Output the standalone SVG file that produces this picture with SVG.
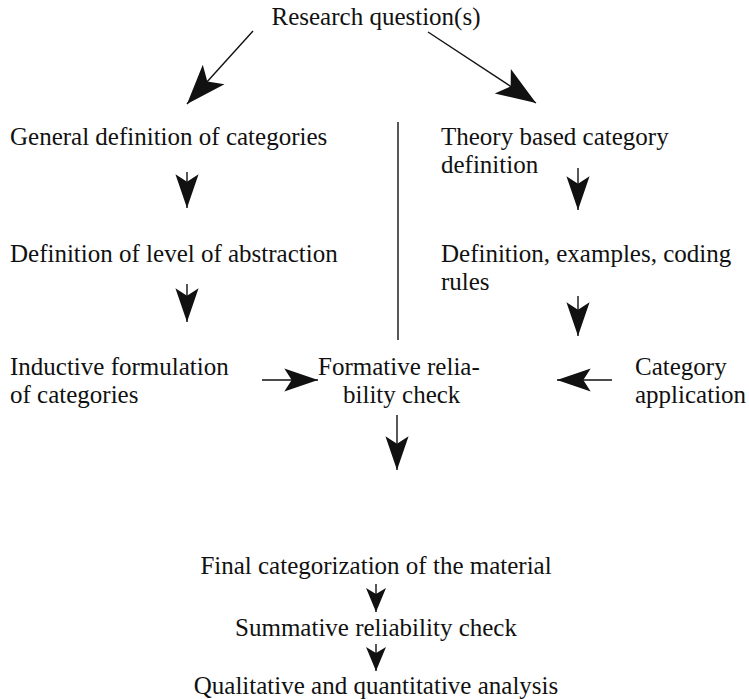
<svg xmlns="http://www.w3.org/2000/svg" width="749" height="699" viewBox="0 0 749 699">
  <defs>
    <style>
      text { font-family: "Liberation Serif", "Times New Roman", serif; font-size: 25px; fill: #111; }
      .mid { text-anchor: middle; }
      .conn { stroke: #111; stroke-width: 1.4; fill: none; }
      .big { marker-end: url(#headBig); }
      .small { marker-end: url(#head); }
      .tiny { marker-end: url(#headTiny); }
    </style>
    <!-- stealth-style arrowheads, tip at the line end -->
    <marker id="head" markerUnits="userSpaceOnUse" markerWidth="40" markerHeight="30" viewBox="-36 -14 38 28" refX="0" refY="0" orient="auto">
      <path d="M0,0 L-32,-11 L-25,0 L-32,11 Z" fill="#111"/>
    </marker>
    <marker id="headBig" markerUnits="userSpaceOnUse" markerWidth="46" markerHeight="34" viewBox="-42 -16 44 32" refX="0" refY="0" orient="auto">
      <path d="M0,0 L-38,-14 L-29,0 L-38,14 Z" fill="#111"/>
    </marker>
    <marker id="headTiny" markerUnits="userSpaceOnUse" markerWidth="30" markerHeight="24" viewBox="-28 -12 30 24" refX="0" refY="0" orient="auto">
      <path d="M0,0 L-24,-10 L-18,0 L-24,10 Z" fill="#111"/>
    </marker>
  </defs>

  <g id="connectors">
    <line class="conn big" x1="253" y1="31" x2="187" y2="104"/>
    <line class="conn big" x1="428" y1="32" x2="536" y2="103"/>
    <line class="conn" x1="398" y1="122" x2="398" y2="340"/>
    <line class="conn small" x1="187" y1="172" x2="187" y2="208"/>
    <line class="conn small" x1="187" y1="284" x2="187" y2="322"/>
    <line class="conn small" x1="578" y1="168" x2="578" y2="210"/>
    <line class="conn small" x1="578" y1="296" x2="578" y2="336"/>
    <line class="conn small" x1="262" y1="380" x2="318" y2="380"/>
    <line class="conn small" x1="612" y1="380" x2="557" y2="380"/>
    <line class="conn small" x1="397" y1="415" x2="397" y2="470"/>
    <line class="conn tiny" x1="376" y1="584" x2="376" y2="612"/>
    <line class="conn tiny" x1="376" y1="644" x2="376" y2="671"/>
  </g>

  <g id="research-question">
    <text class="mid" x="376" y="25">Research question(s)</text>
  </g>
  <g id="general-definition">
    <text x="10" y="145">General definition of categories</text>
  </g>
  <g id="theory-definition">
    <text x="441" y="145">Theory based category</text>
    <text x="441" y="173">definition</text>
  </g>
  <g id="level-of-abstraction">
    <text x="10" y="262">Definition of level of abstraction</text>
  </g>
  <g id="coding-rules">
    <text x="441" y="262">Definition, examples, coding</text>
    <text x="441" y="290">rules</text>
  </g>
  <g id="inductive-formulation">
    <text x="10" y="375">Inductive formulation</text>
    <text x="10" y="403">of categories</text>
  </g>
  <g id="formative-check">
    <text x="318" y="375">Formative relia-</text>
    <text x="343" y="403">bility check</text>
  </g>
  <g id="category-application">
    <text x="635" y="375">Category</text>
    <text x="635" y="403">application</text>
  </g>
  <g id="final-categorization">
    <text class="mid" x="376" y="574">Final categorization of the material</text>
  </g>
  <g id="summative-check">
    <text class="mid" x="376" y="636">Summative reliability check</text>
  </g>
  <g id="analysis">
    <text class="mid" x="376" y="694">Qualitative and quantitative analysis</text>
  </g>
</svg>
